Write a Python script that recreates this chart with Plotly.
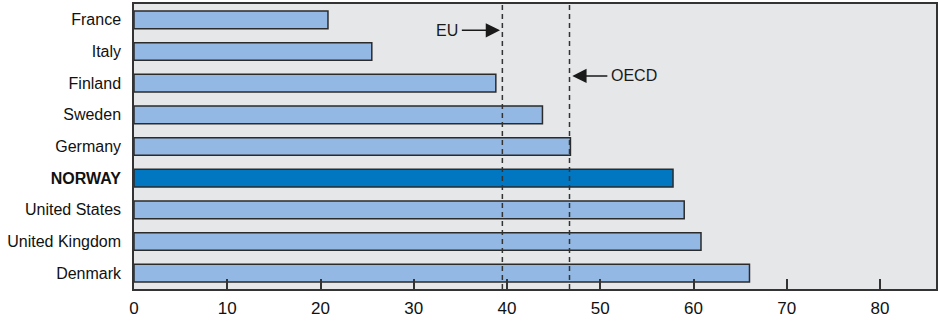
import plotly.graph_objects as go

countries = ["France", "Italy", "Finland", "Sweden", "Germany", "NORWAY",
             "United States", "United Kingdom", "Denmark"]
values = [20.8, 25.5, 38.8, 43.8, 46.8, 57.8, 59.0, 60.8, 66.0]
highlight = "NORWAY"
eu_avg = 39.5
oecd_avg = 46.7
x_ticks = [0, 10, 20, 30, 40, 50, 60, 70, 80]

colors = ["#0077c0" if c == highlight else "#93b8e3" for c in countries]
tick_text = [f"<b>{c}</b>" if c == highlight else c for c in countries]

fig = go.Figure()
fig.add_trace(go.Bar(
    x=values, y=countries, orientation="h",
    marker=dict(color=colors, line=dict(color="#2b2b2b", width=1.5)),
    width=0.56, hoverinfo="x+y",
))

for v in (eu_avg, oecd_avg):
    fig.add_shape(type="line", xref="x", yref="paper", x0=v, x1=v, y0=0, y1=1,
                  line=dict(color="#333333", width=1.5, dash="5px,4px"), layer="above")

ann_font = dict(family="Liberation Sans, Arial", size=16, color="#1a1a1a")
fig.add_annotation(x=eu_avg - 0.25, y=0.33, ax=33.6, ay=0.33, axref="x", ayref="y",
                   xref="x", yref="y", text="EU", showarrow=True,
                   arrowhead=2, arrowsize=1.9, arrowwidth=1.5, arrowcolor="#1a1a1a",
                   font=ann_font, standoff=0, startstandoff=2)
fig.add_annotation(x=oecd_avg + 0.3, y=1.77, ax=53.6, ay=1.77, axref="x", ayref="y",
                   xref="x", yref="y", text="OECD", showarrow=True,
                   arrowhead=2, arrowsize=1.9, arrowwidth=1.5, arrowcolor="#1a1a1a",
                   font=ann_font, standoff=0, startstandoff=2)

fig.update_layout(
    width=939, height=321,
    margin=dict(l=134, r=1, t=4, b=32),
    paper_bgcolor="white", plot_bgcolor="#e6e7e9",
    showlegend=False, bargap=0.44,
    font=dict(family="Liberation Sans, Arial", color="#1a1a1a"),
)
fig.update_xaxes(
    range=[0, 86], tickvals=x_ticks, ticks="inside", ticklen=10, tickwidth=1.5,
    tickcolor="#333333", showgrid=False, zeroline=False,
    showline=True, linecolor="#333333", linewidth=2, mirror=True,
    ticklabelstandoff=3,
    tickfont=dict(size=17, color="#111111"),
)
fig.update_yaxes(
    categoryorder="array", categoryarray=countries,
    tickvals=countries, ticktext=tick_text,
    range=[8.5, -0.5], showgrid=False, zeroline=False,
    showline=True, linecolor="#333333", linewidth=1.5, mirror=True,
    ticks="", ticklabelstandoff=8,
    tickfont=dict(size=16, color="#111111"),
)

fig.write_html("out.html")
